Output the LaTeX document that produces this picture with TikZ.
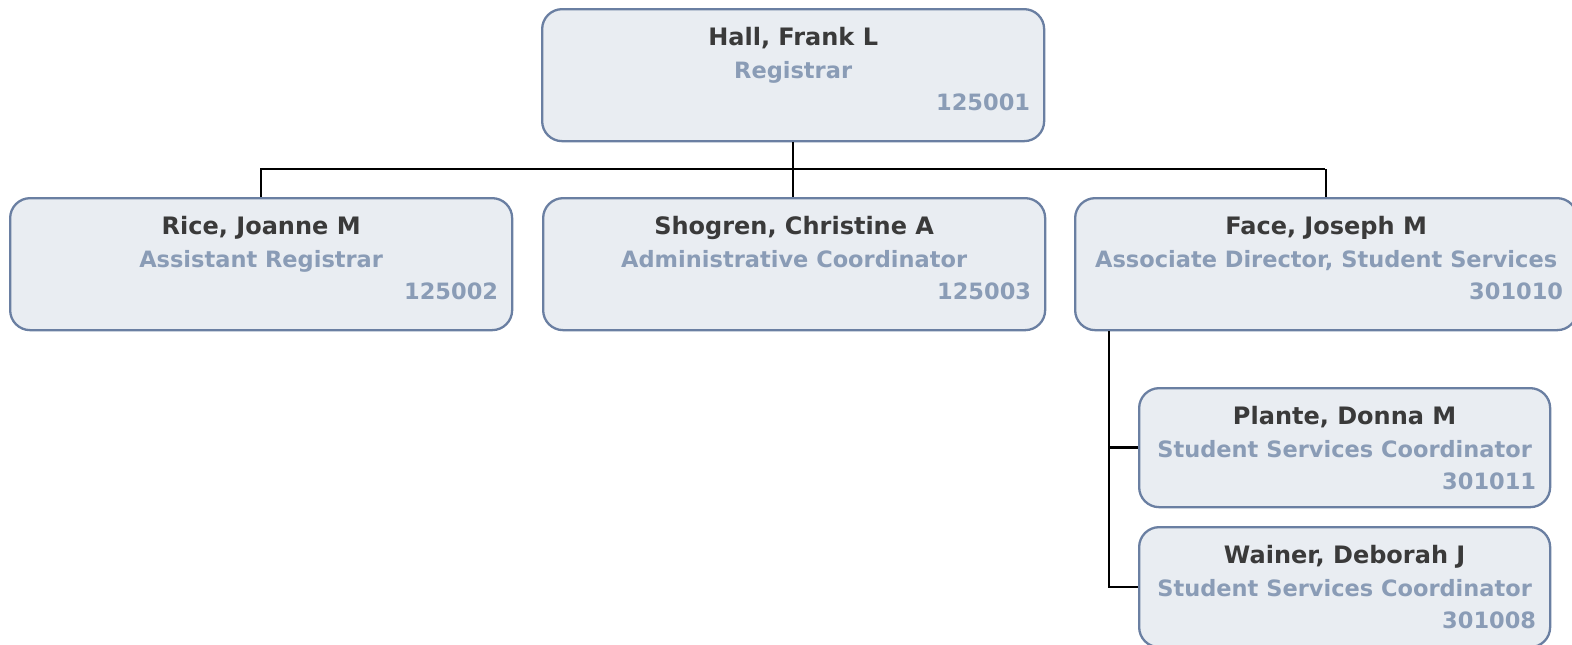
\documentclass[tikz,border=0pt]{standalone}
\usepackage{fontspec}
\setmainfont{DejaVu Sans}
\definecolor{boxfill}{HTML}{E9EDF2}
\definecolor{boxline}{HTML}{6A7FA2}
\definecolor{namecol}{HTML}{3A3A3A}
\definecolor{titlecol}{HTML}{8A9CB6}
\tikzset{
  orgnode/.style={draw=boxline, fill=boxfill, line width=2.3pt, rounded corners=20pt, anchor=north west, inner sep=0pt},
  nametext/.style={anchor=base, inner sep=0pt, text=namecol, font=\fontsize{24}{28}\selectfont\bfseries},
  titletext/.style={anchor=base, inner sep=0pt, text=titlecol, font=\fontsize{22.5}{26}\selectfont\bfseries},
  numtext/.style={anchor=base east, inner sep=0pt, text=titlecol, font=\fontsize{22.5}{26}\selectfont\bfseries},
  conn/.style={draw=black, line width=2.4pt}
}
\newcommand\orgbox[8]{%
  \node[orgnode, minimum width=#4pt, minimum height=#5pt] (#1) at (#2,-#3) {};
  \node[nametext] (#1-n) at ([yshift=-37.5pt]#1.north) {#6};
  \node[titletext] (#1-t) at ([yshift=-70pt]#1.north) {#7};
  \node[numtext] (#1-c) at ([xshift=-15pt,yshift=-102pt]#1.north east) {#8};
}
\begin{document}
\begin{tikzpicture}[x=1pt,y=1pt]
\useasboundingbox (0,0) rectangle (1572,-645);
\draw[conn] (9+251,-169) coordinate (busl) -- (1074+251,-169) coordinate (busr);
\orgbox{hall}{541}{8}{502}{132}{Hall, Frank L}{Registrar}{125001}
\orgbox{rice}{9}{197}{502}{132}{Rice, Joanne M}{Assistant Registrar}{125002}
\orgbox{shog}{542}{197}{502}{132}{Shogren, Christine A}{Administrative Coordinator}{125003}
\orgbox{face}{1074}{197}{502}{132}{Face, Joseph M}{Associate Director, Student Services}{301010}
\orgbox{plante}{1138}{387}{411}{119}{Plante, Donna M}{Student Services Coordinator}{301011}
\orgbox{wainer}{1138}{526}{411}{120}{Wainer, Deborah J}{Student Services Coordinator}{301008}
\draw[conn] (hall.south) -- (hall.south |- shog.north);
\draw[conn] (rice.north) -- (rice.north |- busl);
\draw[conn] (face.north) -- (face.north |- busr);
\coordinate (fbr) at ([xshift=35pt]face.south west);
\draw[conn] (fbr) |- (plante.west);
\draw[conn] (fbr) |- (wainer.west);
\end{tikzpicture}
\end{document}
